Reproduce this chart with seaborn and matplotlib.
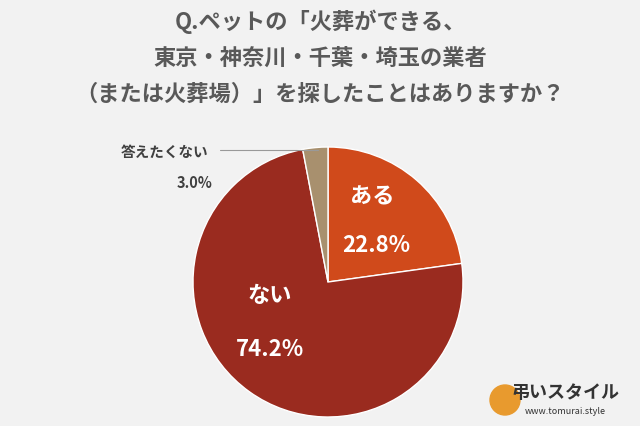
import matplotlib
matplotlib.use("Agg")
import matplotlib.pyplot as plt
import matplotlib.patches as mpatches
import seaborn as sns

sns.set_theme(style="white")
plt.rcParams['font.family'] = ['Noto Sans CJK JP', 'DejaVu Sans']

labels = ["ある", "ない", "答えたくない"]
values = [22.8, 74.2, 3.0]
colors = ["#D04A1B", "#9A2B1F", "#A8906E"]
title_lines = ["Q.ペットの「火葬ができる、", "東京・神奈川・千葉・埼玉の業者", "（または火葬場）」を探したことはありますか？"]

fig = plt.figure(figsize=(6.4, 4.26), dpi=100, facecolor="#F2F2F2")
for i, line in enumerate(title_lines):
    fig.text(0.5, 1 - (22 + 36*i)/426, line, ha="center", va="center", fontsize=16,
             fontweight="bold", color="#595959")
ax = fig.add_axes([(328-135)/640, (426-417)/426, 270/640, 270/426])
ax.set_facecolor("#F2F2F2")
ax.pie(values, colors=colors, startangle=90, counterclock=False,
       wedgeprops=dict(edgecolor="white", linewidth=1))
ax.set_xlim(-1, 1); ax.set_ylim(-1, 1)

def d(px, py):
    return (px-328)/135, (282-py)/135

for (txt, px, py) in [("ある", 372, 197), ("22.8%", 376, 246), ("ない", 270, 296), ("74.2%", 270, 350)]:
    x, y = d(px, py)
    ax.text(x, y, txt, ha="center", va="center", color="white", fontsize=16, fontweight="bold")
x, y = d(165, 152)
ax.text(x, y, labels[2], ha="center", va="center", fontsize=10.5, fontweight="bold", color="#404040", clip_on=False)
x, y = d(195, 183)
ax.text(x, y, f"{values[2]:.1f}%", ha="center", va="center", fontsize=10.5, fontweight="bold", color="#404040", clip_on=False)
x0, y0 = d(220, 150); x1, y1 = d(318, 150)
ax.plot([x0, x1], [y0, y1], color="#999999", lw=0.8, clip_on=False)

fig.text(565/640, 1-392/426, "弔いスタイル", ha="center", va="center", fontsize=13, fontweight="bold", color="#333333")
fig.text(565/640, 1-412/426, "www.tomurai.style", ha="center", va="center", fontsize=6.5, color="#333333")
fig.patches.append(mpatches.Ellipse((505/640, 1-400/426), 30/640, 30/426, transform=fig.transFigure,
                                    color="#E89A2E", zorder=0))
fig.savefig("out.png", dpi=100, facecolor=fig.get_facecolor())
